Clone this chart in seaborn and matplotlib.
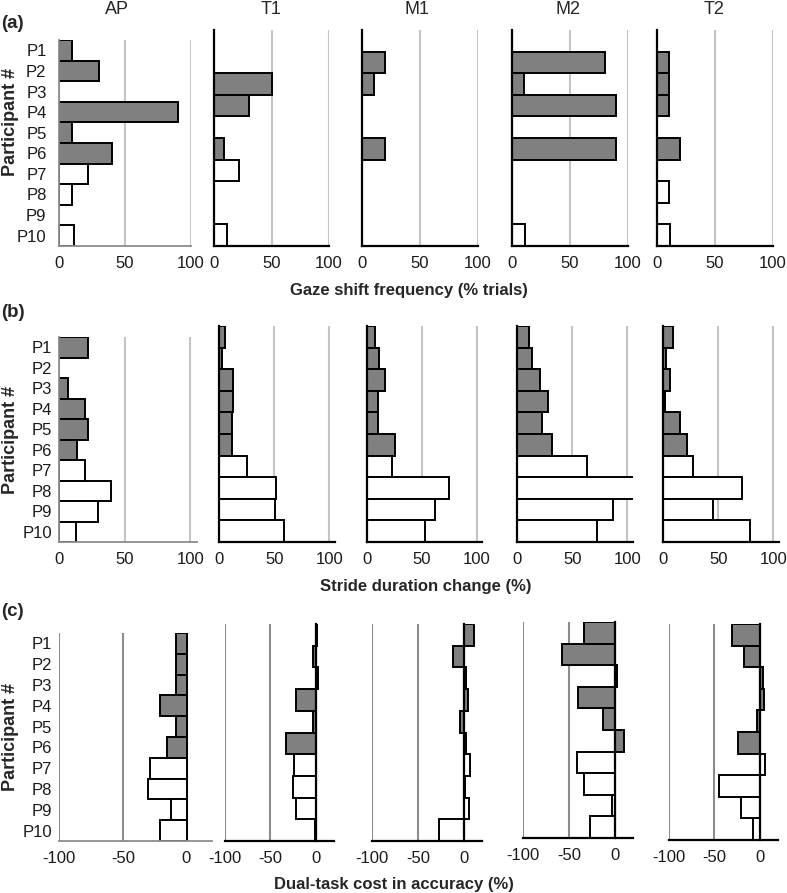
import numpy as np
import pandas as pd
import matplotlib
matplotlib.use('Agg')
import matplotlib.pyplot as plt
import seaborn as sns

sns.set_style("white")
plt.rcParams['font.family'] = ['Liberation Sans', 'DejaVu Sans']
plt.rcParams['axes.unicode_minus'] = False

# data
participants = [f'P{i}' for i in range(1, 11)]
groups = ['dark'] * 6 + ['light'] * 4
columns = ['AP', 'T1', 'M1', 'M2', 'T2']

gaze_shift = {
    'AP': [10, 30, 0, 90, 10, 40, 22, 10, 0, 11],
    'T1': [0, 0, 50, 30, 0, 9, 22, 0, 0, 11],
    'M1': [0, 20, 10, 0, 0, 20, 0, 0, 0, 0],
    'M2': [0, 80, 10, 90, 0, 90, 0, 0, 0, 11],
    'T2': [0, 10, 10, 10, 0, 20, 0, 10, 0, 11],
}
stride_change = {
    'AP': [22, 0, 7, 20, 22, 14, 20, 39.5, 29.5, 13],
    'T1': [5, 3, 13, 13, 11.5, 12, 25.5, 52, 51, 59],
    'M1': [7, 10.5, 16.5, 10, 10, 25.5, 23, 74.5, 62, 53],
    'M2': [10.5, 13.5, 20.5, 28, 22.5, 32, 63.5, 106, 87, 72],
    'T2': [9, 2.5, 6, 1.5, 15.5, 21.5, 27.5, 71.5, 45, 79],
}
accuracy_cost = {
    'AP': [-8, -8, -8, -20.5, -8, -15, -28.5, -30.5, -12.5, -21],
    'T1': [1.5, -3, 2.5, -22, -3, -33, -24, -25, -22, -1],
    'M1': [11, -11.5, 3, 4.5, -3.5, 2, 7, 1, 6, -27],
    'M2': [-34, -58, 3, -40, -12.5, 10.5, -41, -33, -2.5, -27],
    'T2': [-31, -17, 3.5, 4.5, -3.5, -24, 5.5, -45, -21, -8],
}

rows = [gaze_shift, stride_change, accuracy_cost]
row_tags = ['(a)', '(b)', '(c)']
row_xlabels = ['Gaze shift frequency (% trials)', 'Stride duration change (%)',
               'Dual-task cost in accuracy (%)']
xlims = [(0, 100), (0, 105), (-100, 20)]
xticks = [[0, 50, 100], [0, 50, 100], [-100, -50, 0]]
grid_colors = ['#c4c4c4', '#c4c4c4', '#8c8c8c']
bar_colors = {'dark': '#808080', 'light': 'white'}

W, H = 787, 893
# panel boxes in pixels: (left, top, right, bottom)
boxes = [
    [(59, 40, 191, 246), (214, 30, 329, 246), (362, 30, 478, 246),
     (512, 30, 628, 246), (657, 30, 773, 246)],
    [(59, 337, 197, 542), (219, 326, 335, 542), (367, 326, 482, 542),
     (517, 326, 633, 542), (663, 326, 779, 542)],
    [(59, 633, 212, 841), (225, 624, 334, 841), (372, 624, 482, 841),
     (523, 622, 633, 838), (669, 624, 778, 840)],
]


def add_axes(fig, box):
    x0, y0, x1, y1 = box
    return fig.add_axes([x0 / W, 1 - y1 / H, (x1 - x0) / W, (y1 - y0) / H])


def draw_panel(ax, values, r, c):
    df = pd.DataFrame({'participant': participants, 'value': values, 'group': groups})
    sns.barplot(data=df, x='value', y='participant', hue='group', palette=bar_colors,
                dodge=False, width=1, edgecolor='black', linewidth=1.4,
                errorbar=None, legend=False, ax=ax)
    for p in ax.patches:
        if p.get_width() == 0:
            p.set_visible(False)
    ax.set_xlim(xlims[r])
    ax.set_xticks(xticks[r])
    ax.set_xticklabels([str(t) for t in xticks[r]])
    ax.set_xlabel('')
    ax.set_ylabel('')
    ax.set_axisbelow(True)
    ax.grid(axis='x', color=grid_colors[r], linewidth=1.5)
    ax.grid(axis='y', visible=False)
    ax.spines['top'].set_visible(False)
    ax.spines['right'].set_visible(False)
    ax.tick_params(axis='x', length=0, pad=7, labelsize=12, labelcolor='#1a1a1a')
    if c == 0:
        for s in ['left', 'bottom']:
            ax.spines[s].set_color('#8c8c8c')
            ax.spines[s].set_linewidth(1.3)
        if r == 2:
            ax.spines['left'].set_visible(False)
        ax.tick_params(axis='y', length=0, pad=9 if r == 0 else 5, labelsize=12,
                       labelcolor='#1a1a1a')
    else:
        for s in ['left', 'bottom']:
            ax.spines[s].set_color('black')
            ax.spines[s].set_linewidth(1.6)
        if r == 2:
            ax.spines['left'].set_position(('data', 0))
            ax.tick_params(axis='y', direction='in', length=3, width=1.3, color='black')
        else:
            ax.tick_params(axis='y', direction='out', length=3, width=1.3, color='black')
        ax.set_yticklabels([])


fig = plt.figure(figsize=(W / 100, H / 100), dpi=100)

for r, data in enumerate(rows):
    for c, col in enumerate(columns):
        ax = add_axes(fig, boxes[r][c])
        draw_panel(ax, data[col], r, c)

# column titles
title_x = [117, 271, 417, 568, 714]
for col, x in zip(columns, title_x):
    fig.text(x / W, 1 - 9 / H, col, ha='center', va='center', fontsize=13)

# row tags, y labels, x labels
tag_y = [23, 313, 612]
ylab_y = [122, 440, 737]
xlab = [(409, 290), (426, 587), (394, 885)]
for r in range(3):
    fig.text(1 / W, 1 - tag_y[r] / H, row_tags[r], ha='left', va='center',
             fontsize=13.5, fontweight='bold')
    fig.text(11 / W, 1 - ylab_y[r] / H, 'Participant #', ha='center', va='center',
             rotation=90, fontsize=13, fontweight='bold')
    fig.text(xlab[r][0] / W, 1 - xlab[r][1] / H, row_xlabels[r], ha='center',
             va='center', fontsize=12, fontweight='bold')

plt.savefig('out.png', dpi=100)
plt.close()
